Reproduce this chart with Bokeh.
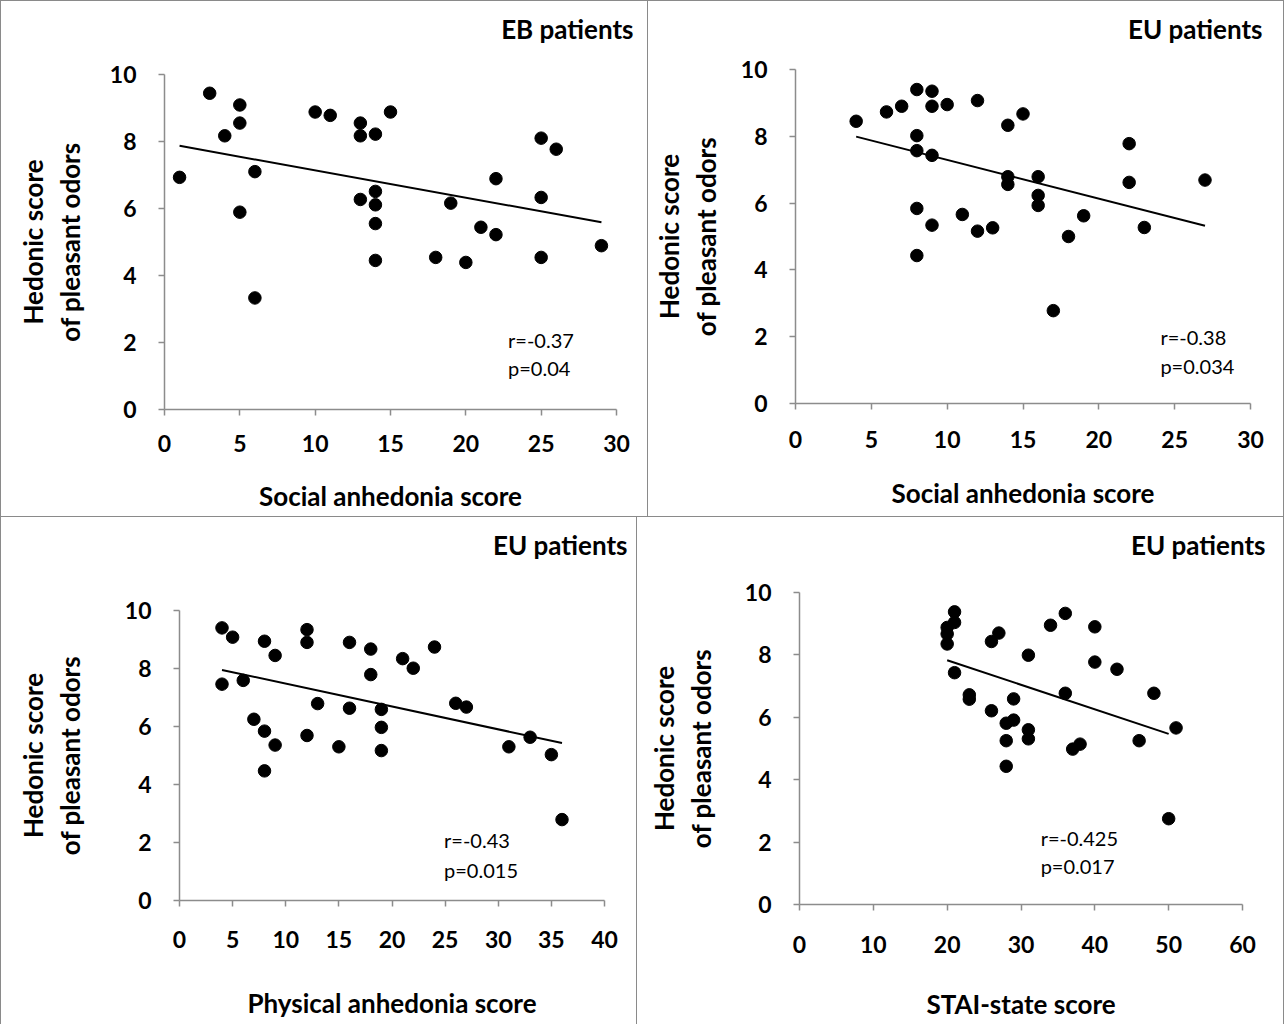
from bokeh.plotting import figure
from bokeh.layouts import column, row
from bokeh.models import Range1d, FixedTicker, Label, Title
from bokeh.embed import file_html
from bokeh.resources import INLINE

# ---------------- data ----------------
y_ticks = [0, 2, 4, 6, 8, 10]
y_axis_label = "Hedonic score\nof pleasant odors"

# Panel A: EB patients, social anhedonia
eb_social_x = [1, 3, 4, 5, 5, 5, 6, 6, 10, 11, 13, 13, 14, 15, 13, 14, 14, 14, 14,
               18, 19, 20, 21, 22, 22, 25, 25, 25, 26, 29]
eb_social_y = [6.93, 9.44, 8.17, 9.09, 8.55, 5.89, 7.10, 3.33, 8.88, 8.78, 8.55, 8.17,
               8.22, 8.88, 6.27, 6.51, 6.11, 5.55, 4.45, 4.54, 6.16, 4.39, 5.44, 6.89,
               5.22, 8.10, 6.33, 4.54, 7.77, 4.89]
eb_social_fit_x = [1, 29]
eb_social_fit_y = [7.87, 5.59]
eb_social_ticks = [0, 5, 10, 15, 20, 25, 30]

# Panel B: EU patients, social anhedonia
eu_social_x = [4, 6, 7, 8, 8, 8, 8, 8, 9, 9, 9, 9, 10, 11, 12, 12, 13, 14, 14, 14,
               15, 16, 16, 16, 17, 18, 19, 22, 22, 23, 27]
eu_social_y = [8.45, 8.73, 8.90, 9.40, 8.02, 7.57, 5.84, 4.43, 9.35, 8.90, 7.43, 5.34,
               8.95, 5.66, 9.07, 5.16, 5.26, 8.33, 6.79, 6.56, 8.67, 6.79, 6.23, 5.93,
               2.78, 5.00, 5.62, 7.78, 6.62, 5.27, 6.69]
eu_social_fit_x = [4, 27]
eu_social_fit_y = [7.99, 5.32]
eu_social_ticks = [0, 5, 10, 15, 20, 25, 30]

# Panel C: EU patients, physical anhedonia
eu_phys_x = [4, 4, 5, 6, 7, 8, 8, 8, 9, 9, 12, 12, 12, 13, 15, 16, 16, 18, 18, 19,
             19, 19, 21, 22, 24, 26, 27, 31, 33, 35, 36]
eu_phys_y = [9.40, 7.46, 9.08, 7.59, 6.25, 8.94, 5.84, 4.47, 8.45, 5.36, 9.34, 8.90,
             5.69, 6.79, 5.30, 8.90, 6.63, 8.67, 7.79, 6.59, 5.97, 5.17, 8.34, 8.01,
             8.74, 6.80, 6.67, 5.30, 5.63, 5.03, 2.79]
eu_phys_fit_x = [4, 36]
eu_phys_fit_y = [7.95, 5.43]
eu_phys_ticks = [0, 5, 10, 15, 20, 25, 30, 35, 40]

# Panel D: EU patients, STAI-state
eu_stai_x = [20, 20, 20, 21, 21, 21, 23, 23, 26, 26, 27, 28, 28, 28, 29, 29, 31, 31,
             31, 34, 36, 36, 37, 38, 40, 40, 43, 46, 48, 50, 51]
eu_stai_y = [8.35, 8.67, 8.88, 9.38, 9.04, 7.43, 6.72, 6.58, 8.43, 6.21, 8.70, 5.81,
             5.25, 4.43, 6.59, 5.91, 7.99, 5.60, 5.31, 8.95, 9.33, 6.77, 4.98, 5.14,
             8.90, 7.77, 7.54, 5.25, 6.77, 2.75, 5.66]
eu_stai_fit_x = [20, 50]
eu_stai_fit_y = [7.83, 5.47]
eu_stai_ticks = [0, 10, 20, 30, 40, 50, 60]

FONT = "Lato"
AXIS_GRAY = "#8c8c8c"
BORDER = "1px solid #8a8a8a"


def panel(xs, ys, fx, fy, xticks, xlabel, title, r_txt, p_txt, geo):
    (w, h, bl, br, bt, bb, t_off, sp_std, rp_xy, xt_std, xl_std, yl_std, styles) = geo
    p = figure(width=w, height=h, output_backend="svg", toolbar_location=None,
               x_range=Range1d(xticks[0], xticks[-1]), y_range=Range1d(0, 10),
               min_border_left=bl, min_border_right=br, min_border_top=bt,
               min_border_bottom=bb, outline_line_color=None,
               background_fill_color="white", border_fill_color="white",
               styles=styles)
    p.frame_align = False
    # thin spacer between frame and the panel title
    p.add_layout(Title(text=" ", text_font_size="10px", standoff=sp_std), "above")
    p.title = Title(text=title, align="right", offset=t_off, standoff=10,
                    vertical_align="top",
                    text_font=FONT, text_font_style="bold", text_font_size="26px",
                    text_color="black")
    p.xgrid.visible = False
    p.ygrid.visible = False
    for ax in (p.xaxis[0], p.yaxis[0]):
        ax.axis_line_color = AXIS_GRAY
        ax.axis_line_width = 1.5
        ax.major_tick_line_color = AXIS_GRAY
        ax.major_tick_line_width = 1.5
        ax.major_tick_in = 0
        ax.major_tick_out = 6
        ax.minor_tick_line_color = None
        ax.major_label_text_font = FONT
        ax.major_label_text_font_style = "bold"
        ax.major_label_text_font_size = "23px"
        ax.major_label_text_color = "black"
        ax.axis_label_text_font = FONT
        ax.axis_label_text_font_style = "bold"
        ax.axis_label_text_font_size = "26px"
        ax.axis_label_text_color = "black"
    p.xaxis.ticker = FixedTicker(ticks=xticks)
    p.yaxis.ticker = FixedTicker(ticks=y_ticks)
    p.xaxis.axis_label = xlabel
    p.yaxis.axis_label = y_axis_label
    p.yaxis.axis_label_text_line_height = 1.15
    p.xaxis.major_label_standoff = xt_std
    p.yaxis.major_label_standoff = 22
    p.xaxis.axis_label_standoff = xl_std
    p.yaxis.axis_label_standoff = yl_std

    p.line(fx, fy, line_color="black", line_width=2)
    p.scatter(xs, ys, size=12.5, fill_color="black", line_color="black")

    rx, ry, py_ = rp_xy
    p.add_layout(Label(x=rx, y=ry, text=r_txt, text_align="left",
                       text_baseline="middle", text_font=FONT,
                       text_font_size="20px", text_color="black"))
    p.add_layout(Label(x=rx, y=py_, text=p_txt, text_align="left",
                       text_baseline="middle", text_font=FONT,
                       text_font_size="20px", text_color="black"))
    return p


pa = panel(eb_social_x, eb_social_y, eb_social_fit_x, eb_social_fit_y, eb_social_ticks,
           "Social anhedonia score", "EB patients", "r=-0.37", "p=0.04",
           (648, 517, 163, 33, 73, 109, -17, 10, (22.8, 2.06, 1.25), 19, 25, 21,
            {"box-sizing": "border-box", "border": BORDER}))
pb = panel(eu_social_x, eu_social_y, eu_social_fit_x, eu_social_fit_y, eu_social_ticks,
           "Social anhedonia score", "EU patients", "r=-0.38", "p=0.034",
           (636, 517, 147, 34, 68, 115, -12, 5, (24.06, 1.99, 1.12), 21, 26, 16,
            {"box-sizing": "border-box", "border-top": BORDER, "border-right": BORDER,
             "border-bottom": BORDER}))
pc = panel(eu_phys_x, eu_phys_y, eu_phys_fit_x, eu_phys_fit_y, eu_phys_ticks,
           "Physical anhedonia score", "EU patients", "r=-0.43", "p=0.015",
           (637, 507, 178, 34, 93, 124, -23, 30, (24.9, 2.07, 1.04), 24, 36, 36,
            {"box-sizing": "border-box", "border-left": BORDER, "border-right": BORDER}))
pd_ = panel(eu_stai_x, eu_stai_y, eu_stai_fit_x, eu_stai_fit_y, eu_stai_ticks,
            "STAI-state score", "EU patients", "r=-0.425", "p=0.017",
            (647, 507, 162, 42, 75, 120, -23, 12, (32.66, 2.14, 1.23), 25, 32, 25,
             {"box-sizing": "border-box", "border-right": BORDER}))

layout = column(row(pa, pb), row(pc, pd_))
open("out.html", "w").write(file_html(layout, INLINE))
